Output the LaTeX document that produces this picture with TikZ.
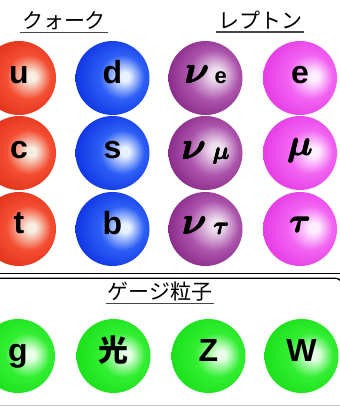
\documentclass[tikz,border=0pt]{standalone}
\usepackage{amsmath}
\usepackage{fontspec}
\newfontfamily\jpfont{Noto Sans CJK JP}
\newfontfamily\sansb{Liberation Sans}

\definecolor{hlred}{RGB}{246,238,225}
\definecolor{bsred}{RGB}{244,78,50}
\definecolor{dkred}{RGB}{222,42,20}
\definecolor{hlblue}{RGB}{232,242,255}
\definecolor{bsblue}{RGB}{45,95,245}
\definecolor{dkblue}{RGB}{10,45,225}
\definecolor{hlpur}{RGB}{238,222,238}
\definecolor{bspur}{RGB}{172,84,172}
\definecolor{dkpur}{RGB}{128,30,128}
\definecolor{hlpink}{RGB}{255,238,255}
\definecolor{bspink}{RGB}{242,100,242}
\definecolor{dkpink}{RGB}{226,52,226}
\definecolor{hlgrn}{RGB}{232,255,232}
\definecolor{bsgrn}{RGB}{50,238,50}
\definecolor{dkgrn}{RGB}{22,222,22}
\definecolor{ulgray}{RGB}{70,70,70}

\pgfdeclareradialshading{sphred}{\pgfpoint{9bp}{1bp}}{color(0bp)=(hlred); color(3bp)=(hlred); color(15bp)=(bsred); color(32bp)=(dkred); color(50bp)=(dkred)}
\pgfdeclareradialshading{sphblue}{\pgfpoint{9bp}{1bp}}{color(0bp)=(hlblue); color(3bp)=(hlblue); color(15bp)=(bsblue); color(32bp)=(dkblue); color(50bp)=(dkblue)}
\pgfdeclareradialshading{sphpur}{\pgfpoint{8bp}{3bp}}{color(0bp)=(hlpur); color(4bp)=(hlpur); color(17bp)=(bspur); color(33bp)=(dkpur); color(50bp)=(dkpur)}
\pgfdeclareradialshading{sphpink}{\pgfpoint{10bp}{1bp}}{color(0bp)=(hlpink); color(3bp)=(hlpink); color(15bp)=(bspink); color(32bp)=(dkpink); color(50bp)=(dkpink)}
\pgfdeclareradialshading{sphgrn}{\pgfpoint{9bp}{1bp}}{color(0bp)=(hlgrn); color(3bp)=(hlgrn); color(15bp)=(bsgrn); color(32bp)=(dkgrn); color(50bp)=(dkgrn)}

\newcommand\gbox[1]{$\boldsymbol{#1}$}
\newcommand\gsym[2]{\scalebox{#1}{\fontsize{10}{12}\selectfont
  \rlap{\kern0.22pt\gbox{#2}}\rlap{\kern0.11pt\raise0.14pt\hbox{\gbox{#2}}}\rlap{\kern0.11pt\lower0.08pt\hbox{\gbox{#2}}}\gbox{#2}\kern0.22pt}}
\newcommand\subsans[1]{{\sansb\bfseries\fontsize{22}{22}\selectfont #1}}

\begin{document}
\begin{tikzpicture}[x=1pt,y=-1pt,
  ball/.style={circle, minimum size=74pt, inner sep=0pt, shade, shading=#1},
  lbl/.style={anchor=base, inner sep=0pt, font=\sansb\bfseries\fontsize{32}{32}\selectfont},
  head/.style={anchor=base, inner xsep=2pt, inner ysep=0pt, font=\jpfont\fontsize{21}{21}\selectfont},
  uline/.style={draw=ulgray, line width=1.2pt},
  sepline/.style={line width=1.3pt}
]
\useasboundingbox (0,0) rectangle (340,407);
\fill[white] (0,0) rectangle (340,407);

% headers
\node[head] (hq) at (64,28) {クォーク};
\node[head] (hl) at (260,28) {レプトン};
\node[head] (hg) at (160,299) {ゲージ粒子};
\draw[uline] ([yshift=-4.3pt]hq.base west) -- ([yshift=-4.3pt]hq.base east);
\draw[uline] ([yshift=-4pt]hl.base west) -- ([yshift=-4pt]hl.base east);
\draw[uline] ([yshift=-4.3pt]hg.base west) -- ([yshift=-4.3pt]hg.base east);

% quarks
\node[ball=sphred] (u) at (19,78) {};
\node[ball=sphred] (c) at (19,153) {};
\node[ball=sphred] (t) at (19,229) {};
\node[ball=sphblue] (d) at (112.5,78) {};
\node[ball=sphblue] (s) at (112.5,153) {};
\node[ball=sphblue] (b) at (112.5,229) {};
% leptons
\node[ball=sphpur] (ne) at (205.5,78) {};
\node[ball=sphpur] (nm) at (205.5,153) {};
\node[ball=sphpur] (nt) at (205.5,229) {};
\node[ball=sphpink] (e) at (300,78) {};
\node[ball=sphpink] (m) at (300,153) {};
\node[ball=sphpink] (ta) at (300,229) {};
% gauge
\node[ball=sphgrn] (g) at (18,356) {};
\node[ball=sphgrn] (ph) at (113.5,356) {};
\node[ball=sphgrn] (z) at (208.5,356) {};
\node[ball=sphgrn] (w) at (301.5,356) {};

% labels
\node[lbl] (tu) at ([yshift=-5pt]u.center) {u};
\node[lbl] (tc) at ([yshift=-5pt]c.center) {c};
\node[lbl] (tt) at ([yshift=-4.5pt]t.center) {t};
\node[lbl] (td) at ([yshift=-5pt]d.center) {d};
\node[lbl] (ts) at ([yshift=-5pt]s.center) {s};
\node[lbl] (tb) at ([yshift=-5pt]b.center) {b};
\node[lbl] (tne) at ([yshift=-5pt]ne.center) {\gsym{3.8}{\nu}\hspace{5pt}\subsans{e}};
\node[lbl] (tnm) at ([yshift=-6pt]nm.center) {\gsym{3.8}{\nu}\hspace{6pt}\gsym{2.4}{\mu}};
\node[lbl] (tnt) at ([yshift=-5pt]nt.center) {\gsym{3.8}{\nu}\hspace{6pt}\gsym{2.4}{\tau}};
\node[lbl] (te) at ([yshift=-5pt]e.center) {e};
\node[lbl] (tm) at ([yshift=-2pt]m.center) {\gsym{3.6}{\mu}};
\node[lbl] (tta) at ([yshift=-3pt]ta.center) {\gsym{3.3}{\tau}};
\node[lbl] (tg) at ([yshift=-5pt]g.center) {g};
\node[lbl, font=\jpfont\bfseries\fontsize{30}{30}\selectfont] (tph) at ([yshift=-5.5pt]ph.center) {光};
\node[lbl] (tz) at ([yshift=-5.5pt]z.center) {Z};
\node[lbl] (tw) at ([yshift=-5.5pt]w.center) {W};

% separator lines
\draw[sepline] (-2,273.3) -- (342,273.3);
\draw[sepline, rounded corners=6pt] (-2,278.3) -- (341.6,278.3) -- (341.6,300);
\draw[line width=1pt, gray!45] (-2,405.6) -- (342,405.6);
\end{tikzpicture}
\end{document}
